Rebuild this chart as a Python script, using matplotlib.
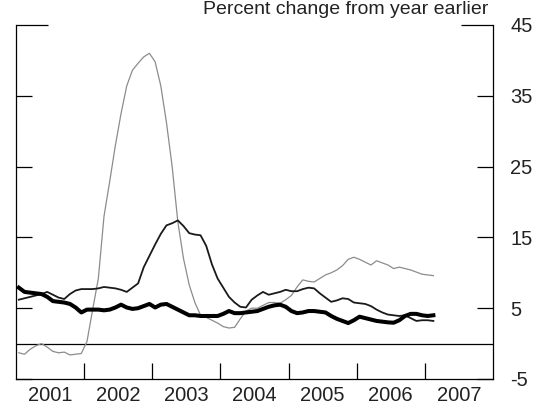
import numpy as np
import matplotlib
matplotlib.use("Agg")
import matplotlib.pyplot as plt
from matplotlib.ticker import FixedLocator, NullFormatter, FixedFormatter

plt.rcParams['font.family'] = ['Liberation Sans', 'DejaVu Sans']

# Monthly observations, January 2001 through February 2007
start_year = 2001
year_labels = ['2001', '2002', '2003', '2004', '2005', '2006', '2007']
y_ticks = [-5, 5, 15, 25, 35, 45]

series_light = [
    -1.3, -1.5, -0.8, -0.3, 0.0, -0.5, -1.1, -1.3, -1.2, -1.6, -1.5, -1.4,
    0.3, 4.8, 9.2, 18.0, 22.9, 28.0, 32.5, 36.4, 38.6, 39.6, 40.5, 41.0,
    39.8, 36.4, 31.2, 25.0, 17.2, 12.0, 8.3, 5.8, 4.0, 3.7, 3.3, 2.9,
    2.4, 2.2, 2.3, 3.5, 4.6, 5.0, 5.0, 5.4, 5.8, 5.8, 5.7, 6.2,
    6.8, 8.0, 9.0, 8.8, 8.7, 9.2, 9.7, 10.0, 10.4, 11.0, 11.9, 12.2,
    11.9, 11.5, 11.1, 11.7, 11.4, 11.1, 10.6, 10.8, 10.6, 10.4, 10.1, 9.8,
    9.7, 9.6,
]

series_dark = [
    6.2, 6.4, 6.6, 6.8, 7.0, 7.3, 6.9, 6.5, 6.3, 7.0, 7.5, 7.7,
    7.7, 7.7, 7.8, 8.0, 7.9, 7.8, 7.6, 7.3, 7.9, 8.5, 10.8, 12.4,
    14.0, 15.5, 16.7, 17.0, 17.4, 16.6, 15.6, 15.4, 15.3, 13.8, 11.2, 9.2,
    7.9, 6.6, 5.8, 5.2, 5.1, 6.2, 6.8, 7.3, 6.9, 7.1, 7.3, 7.6,
    7.4, 7.4, 7.7, 7.9, 7.8, 7.1, 6.5, 5.9, 6.1, 6.4, 6.3, 5.8,
    5.7, 5.6, 5.3, 4.8, 4.4, 4.1, 4.0, 3.9, 4.0, 3.6, 3.2, 3.3,
    3.3, 3.2,
]

series_thick = [
    7.9, 7.3, 7.2, 7.1, 7.0, 6.6, 6.0, 5.9, 5.8, 5.6, 5.1, 4.4,
    4.8, 4.8, 4.8, 4.7, 4.8, 5.1, 5.5, 5.1, 4.9, 5.0, 5.3, 5.6,
    5.1, 5.5, 5.6, 5.2, 4.8, 4.4, 4.0, 4.0, 3.9, 3.9, 3.9, 3.9,
    4.2, 4.6, 4.3, 4.3, 4.4, 4.5, 4.6, 4.9, 5.2, 5.4, 5.5, 5.2,
    4.6, 4.3, 4.4, 4.6, 4.6, 4.5, 4.4, 3.9, 3.5, 3.2, 2.9, 3.3,
    3.8, 3.6, 3.4, 3.2, 3.1, 3.0, 2.95, 3.3, 3.9, 4.2, 4.2, 4.0,
    3.9, 4.0,
]

n = len(series_light)
t = start_year + (np.arange(n) + 0.5) / 12.0

fig = plt.figure(figsize=(5.39, 4.09), dpi=100)
ax = fig.add_axes([16 / 539, 1 - 379 / 409, (493 - 16) / 539, (379 - 25) / 409])

ax.plot(t, series_light, color='#8c8c8c', lw=0.9, zorder=3)
ax.plot(t, series_dark, color='#1a1a1a', lw=1.3, zorder=4)
ax.plot(t, series_thick, color='black', lw=2.9, zorder=5)
ax.axhline(0, color='black', lw=0.9, zorder=2)

ax.set_xlim(2001, 2008)
ax.set_ylim(-5, 45)

ax.spines['top'].set_visible(False)
for side in ['left', 'right', 'bottom']:
    ax.spines[side].set_linewidth(0.9)
    ax.spines[side].set_color('black')

# y axis: inward ticks on both sides, labels on the right
ax.yaxis.set_major_locator(FixedLocator(y_ticks[:-1]))
ax.yaxis.set_major_formatter(FixedFormatter([str(v) for v in y_ticks[:-1]]))
ax.tick_params(axis='y', which='major', direction='in', length=11.5, width=0.9,
               left=True, right=True, labelleft=False, labelright=True,
               labelsize=14.5, pad=12.5, colors='black', labelcolor='#222222')
# top tick is drawn longer
ax.yaxis.set_minor_locator(FixedLocator([45]))
ax.yaxis.set_minor_formatter(FixedFormatter(['45']))
ax.tick_params(axis='y', which='minor', direction='in', length=23, width=0.9,
               left=True, right=True, labelleft=False, labelright=True,
               labelsize=14.5, pad=12.5, labelcolor='#222222')

# x axis: ticks at year boundaries, labels centred in each year
ax.xaxis.set_major_locator(FixedLocator(np.arange(2002, 2008)))
ax.xaxis.set_major_formatter(NullFormatter())
ax.xaxis.set_minor_locator(FixedLocator(np.arange(2001, 2008) + 0.5))
ax.xaxis.set_minor_formatter(FixedFormatter(year_labels))
ax.tick_params(axis='x', which='major', direction='in', length=11.5, width=0.9,
               top=False, bottom=True)
ax.tick_params(axis='x', which='minor', length=0, labelsize=14.5, pad=5,
               labelcolor='#222222')

fig.text(488 / 539, 1 - 9 / 409, 'Percent change from year earlier',
         ha='right', va='center', fontsize=14, color='#222222')

fig.savefig('out.png', dpi=100)
